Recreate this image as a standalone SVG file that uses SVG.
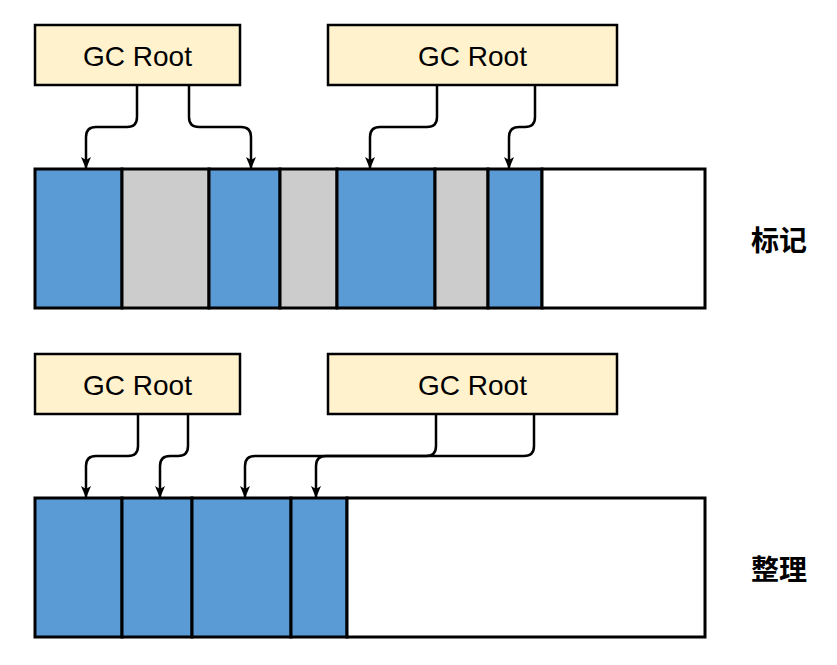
<svg xmlns="http://www.w3.org/2000/svg" width="837" height="665" viewBox="0 0 837 665">
<style>
.root{fill:#FFF2CC;stroke:#000;stroke-width:2.5}
.rt{font-family:"Liberation Sans",Arial,sans-serif;font-size:28px;fill:#000;text-anchor:middle}
.live{fill:#5B9BD5;stroke:#000;stroke-width:3}
.dead{fill:#CCCCCC;stroke:#000;stroke-width:3}
.free{fill:#FFFFFF;stroke:#000;stroke-width:3}
.lbl{font-family:"Noto Sans CJK SC","Noto Sans",sans-serif;font-size:28px;font-weight:bold;fill:#000;text-anchor:middle}
.edge{fill:none;stroke:#000;stroke-width:2.5;marker-end:url(#arr)}
</style>
<defs>
<marker id="arr" markerUnits="userSpaceOnUse" markerWidth="12" markerHeight="11" viewBox="0 0 12 11" refX="11" refY="5.5" orient="auto">
<path d="M0,0.5 L12,5.5 L0,10.5 L3,5.5 z" fill="#000"/>
</marker>
</defs>
<g id="root1"><rect class="root" x="35" y="25" width="205" height="60"/><text class="rt" x="137.5" y="65.5">GC Root</text></g>
<g id="root2"><rect class="root" x="328" y="25" width="289" height="60"/><text class="rt" x="472.5" y="65.5">GC Root</text></g>
<g id="root3"><rect class="root" x="35" y="354" width="205" height="60"/><text class="rt" x="137.5" y="394.5">GC Root</text></g>
<g id="root4"><rect class="root" x="328" y="354" width="289" height="60"/><text class="rt" x="472.5" y="394.5">GC Root</text></g>
<g id="heap-mark">
<rect class="live" x="35" y="169" width="87" height="139"/>
<rect class="dead" x="122" y="169" width="87" height="139"/>
<rect class="live" x="209" y="169" width="71" height="139"/>
<rect class="dead" x="280" y="169" width="57" height="139"/>
<rect class="live" x="337" y="169" width="98" height="139"/>
<rect class="dead" x="435" y="169" width="53" height="139"/>
<rect class="live" x="488" y="169" width="54" height="139"/>
<rect class="free" x="542" y="169" width="163" height="139"/>
</g>
<g id="heap-compact">
<rect class="live" x="35" y="498" width="87" height="139"/>
<rect class="live" x="122" y="498" width="70" height="139"/>
<rect class="live" x="192" y="498" width="99" height="139"/>
<rect class="live" x="291" y="498" width="56" height="139"/>
<rect class="free" x="347" y="498" width="358" height="139"/>
</g>
<g id="label-mark"><text class="lbl" x="779" y="251">标记</text></g>
<g id="label-compact"><text class="lbl" x="779" y="580">整理</text></g>
<g id="connectors">
<path class="edge" d="M137 86 V117 Q137 127 127 127 H96 Q86 127 86 137 V168"/>
<path class="edge" d="M189 86 V117 Q189 127 199 127 H241 Q251 127 251 137 V168"/>
<path class="edge" d="M437 86 V117 Q437 127 427 127 H380 Q370 127 370 137 V168"/>
<path class="edge" d="M535 86 V117 Q535 127 525 127 H519 Q509 127 509 137 V168"/>
<path class="edge" d="M138 415 V446 Q138 456 128 456 H96 Q86 456 86 466 V497"/>
<path class="edge" d="M188 415 V446 Q188 456 178 456 H170 Q160 456 160 466 V497"/>
<path class="edge" d="M436 415 V446 Q436 456 426 456 H255 Q245 456 245 466 V497"/>
<path class="edge" d="M534 415 V446 Q534 456 524 456 H326 Q316 456 316 466 V497"/>
</g>
</svg>
